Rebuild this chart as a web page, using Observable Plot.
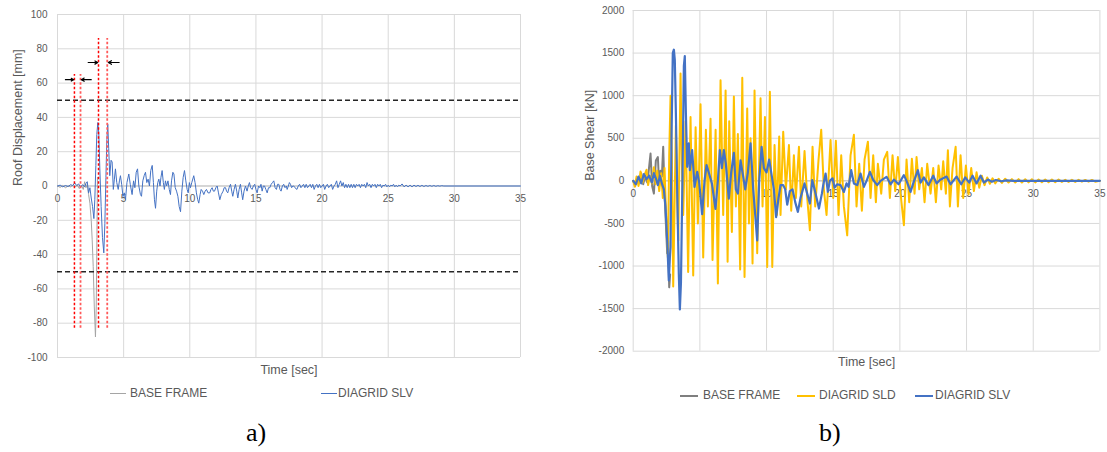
<!DOCTYPE html>
<html><head><meta charset="utf-8">
<script src="https://cdn.jsdelivr.net/npm/d3@7"></script>
<script src="https://cdn.jsdelivr.net/npm/@observablehq/plot@0.6"></script>
<style>
body{margin:0;background:#fff;width:1107px;height:452px;position:relative;overflow:hidden;font-family:"Liberation Sans",Arial,sans-serif}
.panel{position:absolute;top:0}
.leg{position:absolute;font-size:12px;color:#595959;white-space:nowrap;line-height:14px}
.sw{position:absolute;height:0;border-top-style:solid}
.cap{position:absolute;font-family:"Liberation Serif","Times New Roman",serif;font-size:26px;color:#000;line-height:30px}
</style></head><body>
<div id="a" class="panel" style="left:0"></div>
<div id="b" class="panel" style="left:560px"></div>
<div class="sw" style="left:110px;top:393px;width:16px;border-top-width:1.5px;border-color:#a5a5a5"></div>
<div class="leg" style="left:130px;top:386px">BASE FRAME</div>
<div class="sw" style="left:321px;top:393px;width:16px;border-top-width:1.5px;border-color:#4472c4"></div>
<div class="leg" style="left:338px;top:386px">DIAGRID SLV</div>
<div class="sw" style="left:680px;top:395px;width:18px;border-top-width:2.5px;border-color:#7f7f7f"></div>
<div class="leg" style="left:703px;top:388px">BASE FRAME</div>
<div class="sw" style="left:797px;top:395px;width:18px;border-top-width:2.5px;border-color:#ffc000"></div>
<div class="leg" style="left:819px;top:388px">DIAGRID SLD</div>
<div class="sw" style="left:915px;top:395px;width:18px;border-top-width:2.5px;border-color:#4472c4"></div>
<div class="leg" style="left:935px;top:388px">DIAGRID SLV</div>
<div class="cap" style="left:246px;top:418px">a)</div>
<div class="cap" style="left:819px;top:418px">b)</div>
<script>
// ---- shared ticks ----
const timeTicks = [0, 5, 10, 15, 20, 25, 30, 35];
const dispTicks = [-100, -80, -60, -40, -20, 0, 20, 40, 60, 80, 100];
const shearTicks = [-2000, -1500, -1000, -500, 0, 500, 1000, 1500, 2000];
const dispLimits = [50, -50];

// ---- panel a) roof displacement [mm] : [time s, value] ----
const dispBaseFrame = [[0,0],[0.2,-0.8],[0.4,0.3],[0.6,-1],[0.8,0],[1.0,-0.5],[1.2,0.8],[1.35,-0.3],[1.5,0.5],[1.65,-1.5],[1.8,0.5],[1.95,-2],[2.05,2.5],[2.15,-1],[2.25,1],[2.35,-5],[2.45,-10],[2.55,-20],[2.62,-31],[2.7,-47],[2.78,-70],[2.87,-88],[2.93,-70],[2.98,-30],[3.02,5]];
const dispDiagridSLV = [[0,0],[0.2,0.5],[0.4,-0.5],[0.6,0.3],[0.8,-0.3],[1.0,0.8],[1.15,0.2],[1.3,1.8],[1.45,0.3],[1.6,1.2],[1.75,-0.8],[1.9,0.8],[2.05,-0.5],[2.15,1.5],[2.25,2.5],[2.35,-4],[2.45,-1],[2.55,-7],[2.65,-12],[2.75,-19],[2.82,-8],[2.9,12],[2.97,30],[3.05,37],[3.12,31],[3.2,10],[3.3,-12],[3.4,-30],[3.5,-39],[3.58,-22],[3.66,5],[3.73,27],[3.8,36],[3.87,22],[3.95,6],[4.05,15],[4.13,14],[4.22,-2],[4.3,4],[4.38,10],[4.48,2],[4.59,-2],[4.68,3],[4.76,6],[4.85,1],[4.95,-6],[5.05,-4],[5.14,-8],[5.25,2],[5.39,7],[5.5,1],[5.64,-5],[5.75,3],[5.85,-1],[5.95,8],[6.05,10],[6.15,0],[6.27,-5],[6.35,-6],[6.45,3],[6.55,6],[6.65,8],[6.75,2],[6.85,4],[6.95,0],[7.05,9],[7.16,12],[7.25,2],[7.33,-8],[7.41,-13],[7.5,-3],[7.58,2],[7.66,4],[7.75,0],[7.82,5],[7.91,9],[8.0,2],[8.08,-2],[8.16,3],[8.25,0],[8.35,3],[8.45,-2],[8.54,-5],[8.62,3],[8.72,8],[8.8,7],[8.9,-1],[9.0,-3],[9.1,-6],[9.2,-12],[9.3,-15],[9.4,-3],[9.5,5],[9.6,9],[9.7,3],[9.8,-2],[9.88,-4],[9.97,2],[10.05,-1],[10.15,2],[10.3,6],[10.4,2],[10.5,-4],[10.6,-8],[10.68,-10],[10.78,-5],[10.86,-2],[10.96,-3],[11.06,-5],[11.16,-3],[11.26,-2],[11.38,-4],[11.51,-4],[11.6,-2],[11.69,-1],[11.78,-3],[11.87,-3],[11.97,-1],[12.07,0],[12.17,-4],[12.27,-8],[12.38,-5],[12.52,-3],[12.6,-1],[12.7,-1],[12.78,-3],[12.87,-4],[12.97,-1],[13.08,1],[13.17,-3],[13.25,-6],[13.35,-2],[13.45,1],[13.55,-3],[13.63,-7],[13.73,-2],[13.83,1],[13.92,-4],[14.0,-8],[14.1,-3],[14.21,0],[14.33,-3],[14.42,0],[14.51,2],[14.6,-1],[14.71,-2],[14.81,0],[14.91,1],[15.0,-2],[15.09,-4],[15.2,0],[15.3,-1],[15.38,1],[15.47,-3],[15.56,0],[15.65,0],[15.75,-2],[15.85,-4],[15.95,-1],[16.05,-1],[16.15,1],[16.25,2],[16.35,3],[16.45,-1],[16.55,-2],[16.64,1],[16.73,1],[16.82,-2],[16.9,-3],[17.0,0],[17.1,1],[17.2,-1],[17.3,0],[17.36,-2],[17.45,0],[17.53,2],[17.61,1],[17.7,-1],[17.78,0],[17.86,0],[17.95,-1],[18.1,-2],[18.2,0],[18.3,1],[18.4,-1],[18.5,0],[18.6,1],[18.7,-1],[18.8,1],[18.9,-1],[19.0,0],[19.1,1],[19.2,-1],[19.3,1],[19.4,-2],[19.5,0],[19.6,1],[19.7,-1],[19.8,1],[19.9,-1],[20.0,0],[20.1,1],[20.2,-2],[20.3,0],[20.4,1],[20.5,-1],[20.6,0],[20.7,1],[20.8,-2],[20.9,0],[21.0,1],[21.1,3],[21.2,-1],[21.3,1],[21.4,3],[21.5,0],[21.6,2],[21.7,-1],[21.8,1],[21.9,-1],[22.0,1],[22.1,-1],[22.2,1],[22.3,-1],[22.4,1],[22.5,-1],[22.6,1],[22.7,0],[22.8,1],[22.9,-1],[23.0,1],[23.1,0],[23.2,1],[23.3,-1],[23.4,2],[23.5,0],[23.6,1],[23.7,-1],[23.8,1],[23.9,0],[24.0,1],[24.1,-1],[24.2,1],[24.3,0],[24.4,1],[24.5,-1],[24.6,0.5],[24.7,0],[24.8,1],[24.9,-0.5],[25.0,0.5],[25.1,-0.5],[25.2,0.5],[25.3,0],[25.4,1],[25.5,-0.5],[25.6,0.5],[25.7,-0.5],[25.8,0.5],[25.9,0],[26.05,1.2],[26.2,-0.5],[26.35,0.5],[26.5,-0.5],[26.65,0.5],[26.8,-0.5],[26.95,0.5],[27.1,-0.3],[27.25,0.4],[27.4,-0.3],[27.55,0.4],[27.7,-0.3],[27.85,0.3],[28.0,-0.2],[28.15,0.3],[28.3,-0.2],[28.45,0.3],[28.6,-0.2],[28.75,0.2],[28.9,-0.1],[29.05,0.2],[29.2,0],[35,0]];

// red dotted marker lines (time, bottom, top) and arrows
const markerTimesA = [1.28, 3.10];
const markerTimesB = [1.74, 3.76];
const markerBottom = [-83, -83];
const markerTop = [65, 86];
const arrowFromT = [0.6, 2.55, 2.32, 4.66];
const arrowToT = [1.22, 1.80, 3.04, 3.84];
const arrowLevel = [62, 62, 72, 72];

// ---- panel b) base shear [kN] : [time s, value] ----
const shearBaseFrame = [[0,0],[0.15,-60],[0.3,40],[0.45,-30],[0.6,90],[0.75,-40],[0.9,60],[1.05,-20],[1.15,100],[1.3,320],[1.42,-60],[1.55,-150],[1.7,240],[1.85,280],[1.95,-60],[2.05,120],[2.15,50],[2.25,400],[2.35,-150],[2.45,-500],[2.55,-850],[2.62,-700],[2.7,-1250],[2.77,-1100]];
const shearDiagridSLD = [[0,0],[0.12,-70],[0.25,50],[0.4,-60],[0.55,110],[0.7,-20],[0.85,70],[1.0,130],[1.12,-50],[1.25,60],[1.4,-30],[1.55,160],[1.68,-40],[1.8,120],[1.95,-120],[2.1,90],[2.22,-200],[2.35,150],[2.48,-450],[2.6,-900],[2.7,300],[2.8,1000],[2.9,300],[3.0,-1240],[3.1,-300],[3.2,650],[3.3,-200],[3.38,-700],[3.55,1260],[3.65,200],[3.75,-400],[3.93,700],[4.12,-1070],[4.3,750],[4.5,-1110],[4.68,630],[4.85,-500],[5.05,900],[5.25,-900],[5.45,600],[5.6,-300],[5.8,730],[5.95,-930],[6.18,600],[6.35,-1205],[6.55,1180],[6.75,-400],[6.93,1060],[7.08,-950],[7.2,700],[7.4,-600],[7.55,990],[7.7,-300],[7.85,550],[8.02,-1040],[8.18,1210],[8.35,-1130],[8.55,850],[8.68,-500],[8.8,500],[8.95,-970],[9.1,1060],[9.3,-850],[9.55,970],[9.7,-300],[9.88,750],[10.05,-1010],[10.25,1045],[10.43,-1010],[10.6,420],[10.78,-400],[10.95,520],[11.05,-400],[11.25,575],[11.45,-100],[11.68,420],[11.85,-350],[12.05,300],[12.2,-200],[12.43,400],[12.6,-300],[12.85,350],[13.05,-200],[13.25,-580],[13.45,400],[13.65,-300],[13.9,250],[14.1,600],[14.3,-100],[14.5,-400],[14.8,480],[15.0,-200],[15.2,470],[15.4,-400],[15.6,300],[15.8,-300],[16.05,-640],[16.3,300],[16.55,540],[16.75,-300],[16.95,200],[17.15,-350],[17.35,250],[17.6,460],[17.8,-200],[18.0,300],[18.2,-250],[18.35,200],[18.6,-150],[18.8,250],[19.05,340],[19.25,-200],[19.45,300],[19.65,-120],[19.85,280],[20.05,-150],[20.3,-520],[20.5,250],[20.7,-250],[20.9,260],[21.1,-150],[21.25,280],[21.45,-100],[21.65,150],[21.85,-250],[22.05,200],[22.3,-150],[22.5,150],[22.7,-250],[22.9,180],[23.1,-100],[23.25,230],[23.45,-150],[23.6,360],[23.75,-300],[23.95,150],[24.18,400],[24.35,-300],[24.55,300],[24.75,-200],[24.95,180],[25.15,-160],[25.35,150],[25.55,-120],[25.75,100],[25.95,-80],[26.15,60],[26.35,-50],[26.55,40],[26.75,-35],[26.95,30],[27.15,-30],[27.4,25],[27.65,-25],[27.9,25],[28.15,-20],[28.4,20],[28.65,-20],[28.9,20],[29.15,-20],[29.4,18],[29.65,-18],[29.9,18],[30.15,-18],[30.4,15],[30.65,-15],[30.9,15],[31.15,-15],[31.4,15],[31.65,-15],[31.9,15],[32.15,-12],[32.4,12],[32.65,-12],[32.9,12],[33.15,-12],[33.4,12],[33.65,-10],[33.9,10],[34.15,-10],[34.4,10],[34.65,-10],[35,0]];
const shearDiagridSLV = [[0,0],[0.2,-40],[0.4,50],[0.6,-30],[0.8,80],[1.0,20],[1.2,60],[1.4,-20],[1.55,90],[1.7,30],[1.85,-50],[2.0,60],[2.15,-30],[2.3,-100],[2.42,-300],[2.55,-700],[2.67,-1170],[2.75,-900],[2.8,-780],[2.87,480],[2.97,1500],[3.05,1540],[3.12,1420],[3.2,800],[3.3,-110],[3.42,-1090],[3.5,-1510],[3.58,-1200],[3.7,90],[3.8,1350],[3.87,1465],[3.95,800],[4.05,165],[4.17,440],[4.25,126],[4.42,360],[4.6,-70],[4.8,106],[4.95,-20],[5.17,-390],[5.35,0],[5.5,185],[5.7,80],[5.9,-30],[6.17,-330],[6.35,0],[6.5,360],[6.65,150],[6.8,360],[6.95,200],[7.17,-210],[7.35,100],[7.55,330],[7.7,-100],[7.85,-150],[8.05,240],[8.25,50],[8.4,-100],[8.6,100],[8.8,440],[9.0,-100],[9.15,-400],[9.3,-700],[9.45,0],[9.63,400],[9.8,150],[10.0,100],[10.2,250],[10.4,50],[10.55,-100],[10.72,-425],[10.9,-200],[11.05,-50],[11.25,-50],[11.4,-100],[11.55,-280],[11.75,-120],[11.95,-100],[12.15,-250],[12.35,-364],[12.55,-200],[12.85,-30],[13.05,-150],[13.25,-266],[13.43,8],[13.65,-130],[13.93,-325],[14.15,-150],[14.25,-50],[14.43,86],[14.6,-130],[14.75,0],[14.95,30],[15.1,-80],[15.3,-40],[15.55,-50],[15.8,-130],[16.0,-30],[16.15,-70],[16.35,125],[16.55,-30],[16.8,-50],[17.05,86],[17.3,-70],[17.5,0],[17.75,106],[18.0,10],[18.3,-50],[18.55,0],[19.0,47],[19.3,-40],[19.55,15],[19.9,-40],[20.3,67],[20.5,0],[20.8,-130],[21.0,-30],[21.35,125],[21.55,-20],[21.8,40],[22.15,-50],[22.5,60],[22.75,-30],[23.0,10],[23.5,50],[23.8,-40],[24.25,50],[24.6,-40],[24.9,40],[25.2,-20],[25.45,60],[25.75,-30],[26.05,60],[26.3,-20],[26.6,15],[26.9,-10],[27.2,10],[27.6,-5],[28.0,5],[28.5,0],[35,0]];

const FONT = "Liberation Sans, Arial, sans-serif";
const GREY_TXT = "#595959";
const T = d => d[0], V = d => d[1];

const markers = markerTimesA.map((t, i) => ({t, t2: markerTimesB[i], y1: markerBottom[i], y2: markerTop[i]}));
const arrows = arrowFromT.map((t, i) => ({x1: t, x2: arrowToT[i], y: arrowLevel[i]}));

const plotA = Plot.plot({
  width: 535, height: 385,
  marginLeft: 57, marginRight: 15, marginTop: 14, marginBottom: 28,
  x: {domain: [0, 35], axis: null},
  y: {domain: [-100, 100], axis: null},
  style: {fontFamily: FONT, background: "white", overflow: "visible"},
  marks: [
    Plot.gridX(timeTicks, {stroke: "#d9d9d9", strokeOpacity: 1}),
    Plot.gridY(dispTicks, {stroke: "#d9d9d9", strokeOpacity: 1}),
    Plot.ruleY([0], {stroke: "#bfbfbf"}),
    Plot.axisY(dispTicks, {tickSize: 0, tickPadding: 10, fontSize: 10, fill: GREY_TXT, tickFormat: d => String(d), label: null}),
    Plot.text(timeTicks, {x: d => d, y: 0, dy: 13, text: d => String(d), fontSize: 10, fill: GREY_TXT}),
    Plot.text(["Roof Displacement [mm]"], {frameAnchor: "left", dx: -40, rotate: -90, fontSize: 12.5, fill: GREY_TXT}),
    Plot.text(["Time [sec]"], {frameAnchor: "bottom", lineAnchor: "middle", dy: 12, fontSize: 12.5, fill: GREY_TXT}),
    Plot.line(dispBaseFrame, {x: T, y: V, stroke: "#a5a5a5", strokeWidth: 1}),
    Plot.line(dispDiagridSLV, {x: T, y: V, stroke: "#4472c4", strokeWidth: 1}),
    Plot.ruleY(dispLimits, {stroke: "#262626", strokeWidth: 1.5, strokeDasharray: "5,3"}),
    Plot.ruleX(markers, {x: "t", y1: "y1", y2: "y2", stroke: "#ff0000", strokeWidth: 1.5, strokeDasharray: "2.5,2"}),
    Plot.ruleX(markers, {x: "t2", y1: "y1", y2: "y2", stroke: "#ff5a5a", strokeWidth: 1.8, strokeDasharray: "2.5,2"}),
    Plot.arrow(arrows, {x1: "x1", x2: "x2", y1: "y", y2: "y", stroke: "#000", strokeWidth: 1.2, headLength: 5})
  ]
});
document.getElementById("a").appendChild(plotA);

const plotB = Plot.plot({
  width: 547, height: 385,
  marginLeft: 72.7, marginRight: 7.6, marginTop: 10, marginBottom: 34.3,
  x: {domain: [0, 35], axis: null},
  y: {domain: [-2000, 2000], axis: null},
  style: {fontFamily: FONT, background: "white", overflow: "visible"},
  marks: [
    Plot.gridX(timeTicks, {stroke: "#d9d9d9", strokeOpacity: 1}),
    Plot.gridY(shearTicks, {stroke: "#d9d9d9", strokeOpacity: 1}),
    Plot.ruleY([0], {stroke: "#bfbfbf"}),
    Plot.axisY(shearTicks, {tickSize: 0, tickPadding: 9, fontSize: 10, fill: GREY_TXT, tickFormat: d => String(d), label: null}),
    Plot.text(timeTicks, {x: d => d, y: 0, dy: 13, text: d => String(d), fontSize: 10, fill: GREY_TXT}),
    Plot.text(["Base Shear [kN]"], {frameAnchor: "left", dx: -43, rotate: -90, fontSize: 12.5, fill: GREY_TXT}),
    Plot.text(["Time [sec]"], {frameAnchor: "bottom", lineAnchor: "middle", dy: 10.5, fontSize: 12.5, fill: GREY_TXT}),
    Plot.line(shearBaseFrame, {x: T, y: V, stroke: "#7f7f7f", strokeWidth: 2}),
    Plot.line(shearDiagridSLD, {x: T, y: V, stroke: "#ffc000", strokeWidth: 2}),
    Plot.line(shearDiagridSLV, {x: T, y: V, stroke: "#4472c4", strokeWidth: 2.2})
  ]
});
document.getElementById("b").appendChild(plotB);
</script>
</body></html>
